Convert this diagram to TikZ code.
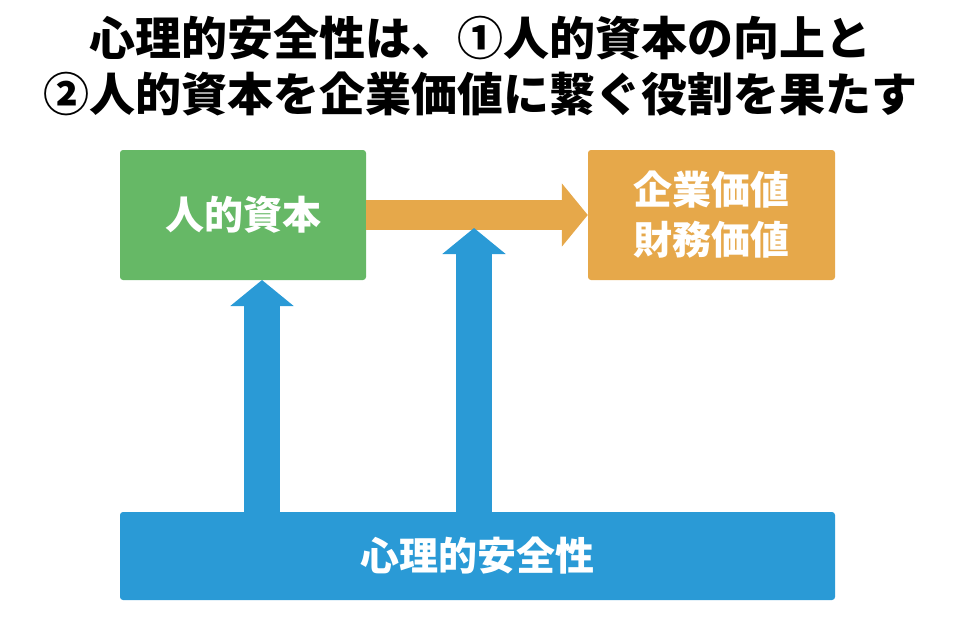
\documentclass[tikz,border=0pt]{standalone}
\usepackage{fontspec}
\setmainfont{Noto Sans CJK JP}
\usetikzlibrary{arrows.meta}

\tikzset{
    box/.style={rounded corners=3pt, minimum height=130pt, inner sep=0pt, text=white, font=\fontsize{39}{50}\selectfont\bfseries, align=center},
    flow/.style={line width=30pt, -{Triangle[width=62pt, length=26pt]}},
}
\definecolor{hcgreen}{HTML}{66B866}
\definecolor{hcorange}{HTML}{E6A84A}
\definecolor{hcblue}{HTML}{2A9AD6}

\begin{document}
\begin{tikzpicture}[x=1pt, y=-1pt]
    \useasboundingbox (0,0) rectangle (960,624);

    % Title
    \node (title) at (480,66) [align=center, font=\fontsize{46}{56}\selectfont\bfseries]
        {心理的安全性は、①人的資本の向上と\\②人的資本を企業価値に繋ぐ役割を果たす};

    % Boxes
    \node (capital) [box, fill=hcgreen, minimum width=246pt] at (243,215) {人的資本};
    \node (value)   [box, fill=hcorange, minimum width=247pt] at (711.5,215) {企業価値\\財務価値};
    \node (safety)  [box, fill=hcblue, minimum width=715pt, minimum height=88pt] at (477.5,556) {心理的安全性};

    % Arrows
    \coordinate (left) at (262,280);
    \coordinate (mid) at (474,228);
    \draw[flow, hcorange] (capital.east) -- (value.west);
    \draw[flow, hcblue, line width=36pt] (safety.north -| left) -- (left);
    \draw[flow, hcblue, line width=36pt] (safety.north -| mid) -- (mid);
\end{tikzpicture}
\end{document}
